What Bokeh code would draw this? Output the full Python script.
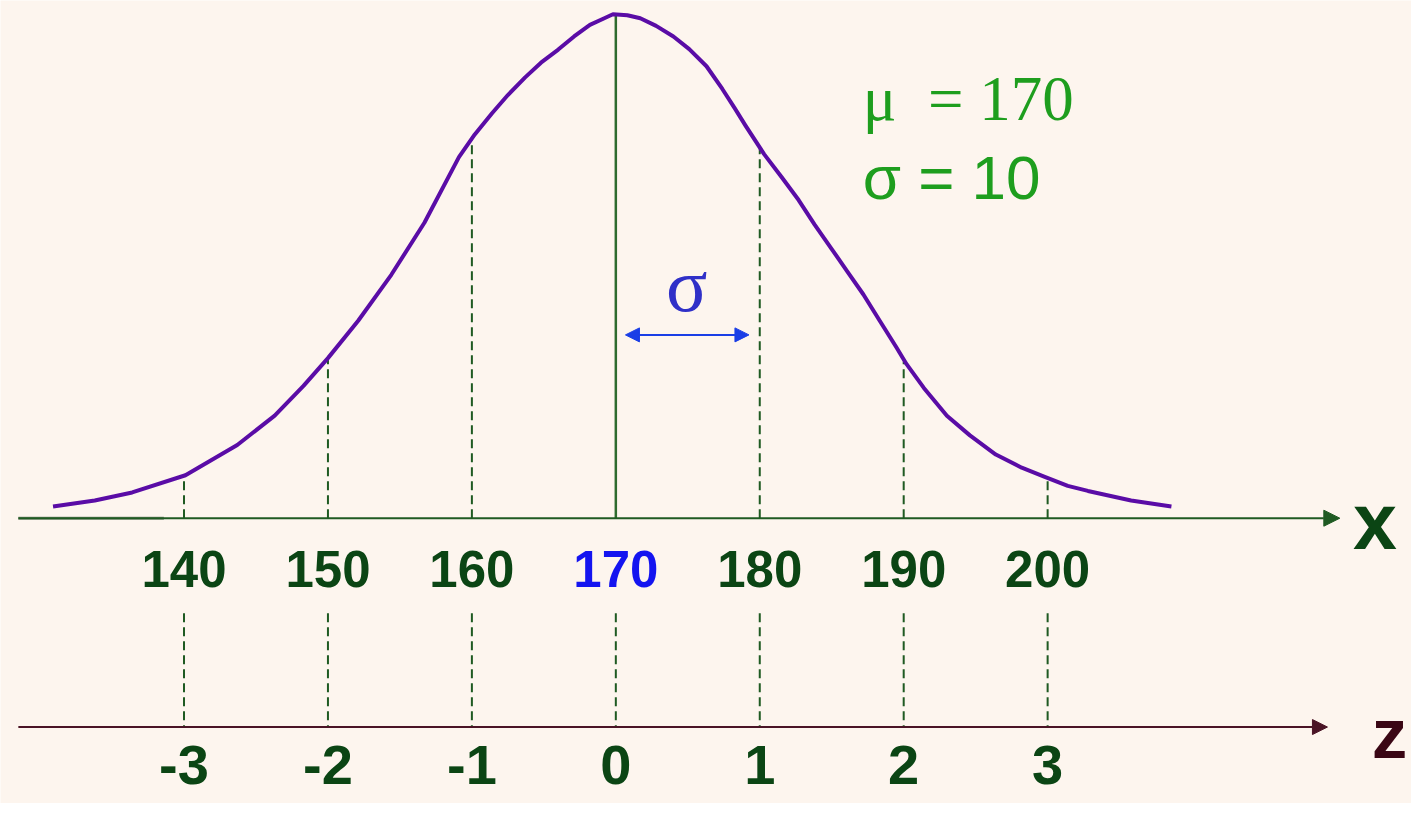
from bokeh.plotting import figure
from bokeh.models import Range1d, Arrow, NormalHead, ColumnDataSource
from bokeh.core.properties import value
from bokeh.embed import file_html
from bokeh.resources import INLINE

# ---------------- data ----------------
# normal curve (x in cm, height relative to the peak)
curve_x = [130.9, 133.8, 136.4, 140.1, 143.7, 146.3, 148.3, 150.0, 152.1, 154.4,
           156.7, 159.1, 160.2, 161.4, 162.5, 163.7, 164.8, 166.0, 167.1, 168.2,
           169.2, 169.8, 170.8, 171.7, 172.8, 174.0, 175.1, 176.3, 177.4, 178.3,
           179.0, 180.3, 181.5, 182.7, 183.8, 185.0, 186.1, 187.2, 188.4, 189.5,
           190.2, 191.4, 193.0, 194.6, 196.4, 198.2, 199.8, 201.4, 202.8, 205.8,
           208.6]
curve_y = [0.023, 0.035, 0.051, 0.085, 0.145, 0.203, 0.262, 0.317, 0.391, 0.482,
           0.585, 0.715, 0.760, 0.802, 0.838, 0.873, 0.902, 0.928, 0.954, 0.977,
           0.990, 0.998, 0.996, 0.990, 0.975, 0.954, 0.929, 0.895, 0.850, 0.810,
           0.778, 0.721, 0.676, 0.630, 0.582, 0.533, 0.488, 0.443, 0.388, 0.338,
           0.305, 0.258, 0.203, 0.164, 0.126, 0.100, 0.082, 0.064, 0.054, 0.035,
           0.023]

x_ticks = [140, 150, 160, 170, 180, 190, 200]
x_tick_labels = ["140", "150", "160", "170", "180", "190", "200"]
z_tick_labels = ["-3", "-2", "-1", "0", "1", "2", "3"]
guide_heights = [0.084, 0.317, 0.751, 1.0, 0.734, 0.310, 0.080]  # where the guides meet the curve

mu = 170
sigma = 10

# ---------------- styling ----------------
BG = "#FDF5EE"
PURPLE = "#5A0CA6"
DKGREEN = "#1F5A22"
LBLGREEN = "#0B4514"
LTGREEN = "#1E9E1E"
BLUE = "#1414F0"
ARROWBLUE = "#1A3EE6"
MAROON = "#4A1426"

p = figure(width=1411, height=803, output_backend="svg", toolbar_location=None,
           x_range=Range1d(127.25, 225.28), y_range=Range1d(-0.5650, 1.0252),
           min_border=0, background_fill_color=BG, border_fill_color=BG,
           outline_line_color=None)
p.axis.visible = False
p.grid.visible = False

Z_Y = -0.4136

# x axis (arrow)
p.add_layout(Arrow(end=NormalHead(size=16, fill_color=DKGREEN, line_color=DKGREEN),
                   x_start=128.49, y_start=0, x_end=220.3, y_end=0,
                   line_color=DKGREEN, line_width=2))
p.segment(x0=[128.49], y0=[0], x1=[138.6], y1=[0], line_color="#7F8C7A", line_width=3)
# z axis (arrow)
p.add_layout(Arrow(end=NormalHead(size=15, fill_color=MAROON, line_color=MAROON),
                   x_start=128.49, y_start=Z_Y, x_end=219.44, y_end=Z_Y,
                   line_color=MAROON, line_width=2))

# guide lines from the x axis up to the curve
dash_x = [t for t in x_ticks if t != mu]
dash_h = [h for t, h in zip(x_ticks, guide_heights) if t != mu]
p.segment(x0=dash_x, y0=[0] * len(dash_x), x1=dash_x, y1=dash_h,
          line_color=DKGREEN, line_width=2, line_dash="9 5")
# central solid line
p.segment(x0=[mu], y0=[0], x1=[mu], y1=[guide_heights[x_ticks.index(mu)]],
          line_color="#2E6B2E", line_width=2.5)
# lower dashed guides down to the z axis
p.segment(x0=x_ticks, y0=[-0.188] * len(x_ticks), x1=x_ticks, y1=[Z_Y] * len(x_ticks),
          line_color=DKGREEN, line_width=2, line_dash="9 5")

# the bell curve
p.line(curve_x, curve_y, line_color=PURPLE, line_width=4, line_join="round")

# x tick labels
lbl_colors = [BLUE if t == mu else LBLGREEN for t in x_ticks]
src = ColumnDataSource(dict(x=x_ticks, y=[-0.136] * len(x_ticks), t=x_tick_labels, c=lbl_colors))
p.text(x="x", y="y", text="t", source=src, text_color="c", text_align="center",
       text_baseline="alphabetic", text_font=value("Liberation Sans"),
       text_font_style="bold", text_font_size="51px", y_offset=-18)

# z tick labels
p.text(x=x_ticks, y=[-0.5515] * len(x_ticks), text=z_tick_labels, text_color=LBLGREEN,
       text_align="center", text_baseline="alphabetic", text_font=value("Liberation Sans"),
       text_font_style="bold", text_font_size="56px", y_offset=-32)

# axis names
p.text(x=[222.74], y=[-0.062], text=["x"], text_color=LBLGREEN, text_align="center",
       text_baseline="alphabetic", text_font=value("Liberation Sans"),
       text_font_style="bold", text_font_size="79px", y_offset=-28)
p.text(x=[223.76], y=[-0.4757], text=["z"], text_color="#3A0614", text_align="center",
       text_baseline="alphabetic", text_font=value("Liberation Sans"),
       text_font_style="bold", text_font_size="71px", y_offset=-25)

# parameters
p.text(x=[187.15], y=[0.786], text=[f"\u03bc\u00a0\u00a0= {mu}"], text_color=LTGREEN,
       text_align="left", text_baseline="alphabetic", text_font=value("Liberation Serif"),
       text_font_size="63px", y_offset=-22)
p.text(x=[187.15], y=[0.631], text=[f"\u03c3 = {sigma}"], text_color=LTGREEN,
       text_align="left", text_baseline="alphabetic", text_font=value("Liberation Sans"),
       text_font_size="62px", y_offset=-22)

# sigma width marker
p.add_layout(Arrow(start=NormalHead(size=14, fill_color=ARROWBLUE, line_color=ARROWBLUE),
                   end=NormalHead(size=14, fill_color=ARROWBLUE, line_color=ARROWBLUE),
                   x_start=mu + 0.67, y_start=0.363, x_end=mu + sigma - 0.75, y_end=0.363,
                   line_color=ARROWBLUE, line_width=2))
p.text(x=[mu + sigma / 2 - 0.08], y=[0.408], text=["\u03c3"], text_color="#3030C8",
       text_align="center", text_baseline="alphabetic", text_font=value("Liberation Serif"),
       text_font_size="77px", y_offset=-27)

open("out.html", "w").write(file_html(p, INLINE))
